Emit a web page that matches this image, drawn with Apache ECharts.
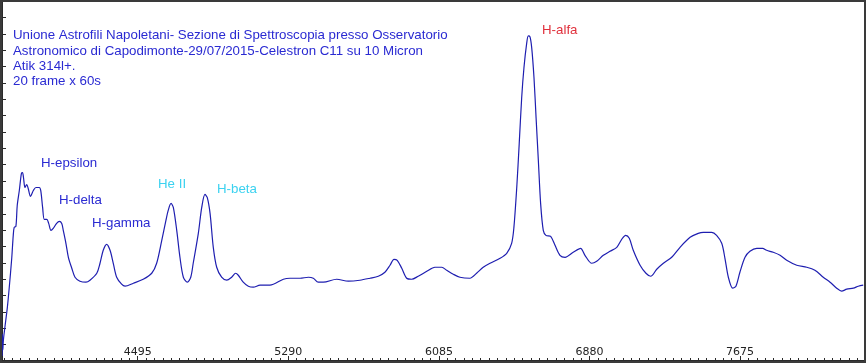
<!DOCTYPE html>
<html>
<head>
<meta charset="utf-8">
<script src="https://cdn.jsdelivr.net/npm/echarts@6/dist/echarts.min.js"></script>
<style>
html,body{margin:0;padding:0;background:#fff;}
#chart{width:866px;height:363px;}
</style>
</head>
<body>
<div id="chart"></div>
<script>
// Wavelength (Angstrom)
var wavelength = [3779,3780,3783,3786,3794,3807,3817,3830,3838,3843,3852,3859,3870,3881,3887,3892,3900,3909,3917,3929,3944,3958,3975,3983,3993,4002,4015,4025,4037,4049,4067,4081,4094,4102,4116,4129,4147,4164,4190,4222,4243,4279,4296,4313,4331,4349,4366,4384,4410,4428,4472,4524,4569,4595,4622,4644,4656,4671,4683,4701,4718,4736,4757,4775,4788,4815,4833,4850,4862,4877,4894,4912,4938,4965,4991,5012,5026,5052,5079,5105,5141,5193,5264,5299,5352,5396,5422,5448,5475,5545,5607,5668,5721,5765,5800,5827,5848,5865,5889,5915,5941,5976,6021,6064,6100,6126,6161,6196,6249,6284,6319,6355,6408,6443,6469,6481,6496,6509,6522,6534,6548,6557,6566,6575,6587,6598,6610,6622,6636,6650,6675,6698,6724,6751,6794,6833,6856,6892,6918,6953,6988,7024,7050,7071,7090,7111,7147,7178,7203,7235,7270,7314,7358,7411,7454,7481,7525,7551,7578,7595,7613,7636,7653,7674,7701,7727,7763,7794,7815,7850,7886,7921,7974,8027,8070,8114,8150,8185,8211,8238,8273,8299,8325];
// Relative intensity (arbitrary units)
var intensity = [0.5,2.7,1.1,2.1,3.4,5.4,7.4,10.3,12.6,13.4,13.5,15.6,17.1,18.8,18.9,18.4,17.4,17.7,17.3,16.5,17.1,17.4,17.4,17.1,15.4,14.2,14.2,13.8,13.1,13.3,13.8,14.0,13.8,13.1,11.8,10.4,9.3,8.4,8.0,7.9,8.1,8.8,9.8,11.1,11.7,11.1,9.8,8.4,7.7,7.5,7.8,8.2,8.8,9.8,12.1,14.1,15.1,15.8,15.4,13.1,10.4,8.4,7.9,8.4,9.8,12.8,15.4,16.7,16.4,14.8,11.4,9.4,8.4,8.1,8.4,8.8,8.6,7.9,7.5,7.4,7.6,7.6,8.2,8.3,8.3,8.4,8.3,7.9,7.9,8.2,8.0,8.1,8.3,8.5,8.9,9.6,10.2,10.1,9.3,8.3,8.2,8.5,9.0,9.4,9.4,9.1,8.7,8.4,8.3,8.8,9.4,9.8,10.3,10.8,11.8,13.4,17.4,21.8,26.4,29.4,31.8,32.6,32.5,31.4,28.4,24.4,20.1,15.8,13.1,12.6,12.5,11.6,10.6,10.4,10.9,11.3,10.6,9.8,10.0,10.6,11.0,11.4,12.2,12.6,12.3,11.1,9.6,8.8,8.5,9.2,9.8,10.4,11.4,12.4,12.8,12.9,12.9,12.6,11.8,10.3,8.4,7.3,7.5,8.9,10.4,11.0,11.3,11.3,11.1,10.9,10.6,10.1,9.6,9.4,9.1,8.4,7.9,7.3,7.0,7.2,7.3,7.5,7.6];
var tickLabels = [4495, 5290, 6085, 6880, 7675];
var titleLines = [
  "Unione Astrofili Napoletani- Sezione di Spettroscopia presso Osservatorio",
  "Astronomico di Capodimonte-29/07/2015-Celestron C11 su 10 Micron",
  "Atik 314l+.",
  "20 frame x 60s"
];
var lineNames = ["H-epsilon","H-delta","H-gamma","He II","H-beta","H-alfa"];

var xMin = 3778.6, xMax = 8329.1;
var step = 795 / 18;
var minorTicks = [];
for (var v = 4495 - 17 * step; v <= xMax; v += step) {
  if (v >= xMin) minorTicks.push(Math.round(v * 10) / 10);
}

var seriesData = wavelength.map(function (w, i) { return [w, intensity[i]]; });

var blue = '#2a2ad2', cyan = '#3cd2f0', red = '#e0303c';
var font = '"Liberation Sans", Arial, sans-serif';

function txt(text, x, y, color) {
  return { type: 'text', x: x, y: y, style: { text: text, fill: color, font: '13.3px ' + font, verticalAlign: 'middle', align: 'left' } };
}

var graphics = [];
titleLines.forEach(function (t, i) {
  graphics.push(txt(t, 13, [35.5, 51, 66.5, 81][i], blue));
});
graphics.push(txt(lineNames[0], 41, 163.5, blue));
graphics.push(txt(lineNames[1], 59, 200.5, blue));
graphics.push(txt(lineNames[2], 92, 223, blue));
graphics.push(txt(lineNames[3], 158, 184, cyan));
graphics.push(txt(lineNames[4], 217, 189.5, cyan));
graphics.push(txt(lineNames[5], 542, 30, red));
graphics.push({
  type: 'rect', z: 100, silent: true,
  shape: { x: 1, y: 1, width: 864, height: 361 },
  style: { fill: 'none', stroke: '#3a3a3a', lineWidth: 2 }
});

var chart = echarts.init(document.getElementById('chart'), null, { renderer: 'canvas' });
chart.setOption({
  animation: false,
  backgroundColor: '#ffffff',
  grid: { left: 2, right: 2, top: 1, bottom: 2 },
  xAxis: [{
    type: 'value', min: xMin, max: xMax,
    splitLine: { show: false },
    axisLine: { show: true, lineStyle: { color: '#2a2a2a', width: 2 } },
    axisTick: { show: true, inside: true, length: 5, customValues: tickLabels, lineStyle: { color: '#2a2a2a' } },
    axisLabel: { show: true, inside: true, margin: 3, customValues: tickLabels, color: '#222', fontSize: 11,
      fontFamily: '"DejaVu Sans", Verdana, sans-serif', formatter: function (v) { return String(v); } }
  }, {
    type: 'value', min: xMin, max: xMax, position: 'bottom',
    splitLine: { show: false },
    axisLine: { show: false },
    axisTick: { show: true, inside: true, length: 3, customValues: minorTicks, lineStyle: { color: '#2a2a2a' } },
    axisLabel: { show: false }
  }],
  yAxis: {
    type: 'value', min: 0, max: 36.1, interval: 1.64,
    splitLine: { show: false },
    axisLine: { show: true, lineStyle: { color: '#2a2a2a', width: 2 } },
    axisTick: { show: true, inside: true, length: 4, lineStyle: { color: '#2a2a2a' } },
    axisLabel: { show: false }
  },
  graphic: graphics,
  series: [{
    type: 'line', xAxisIndex: 0,
    data: seriesData,
    showSymbol: false,
    smooth: 0.3,
    lineStyle: { color: '#1e1eb0', width: 1.2 }
  }]
});
</script>
</body>
</html>
